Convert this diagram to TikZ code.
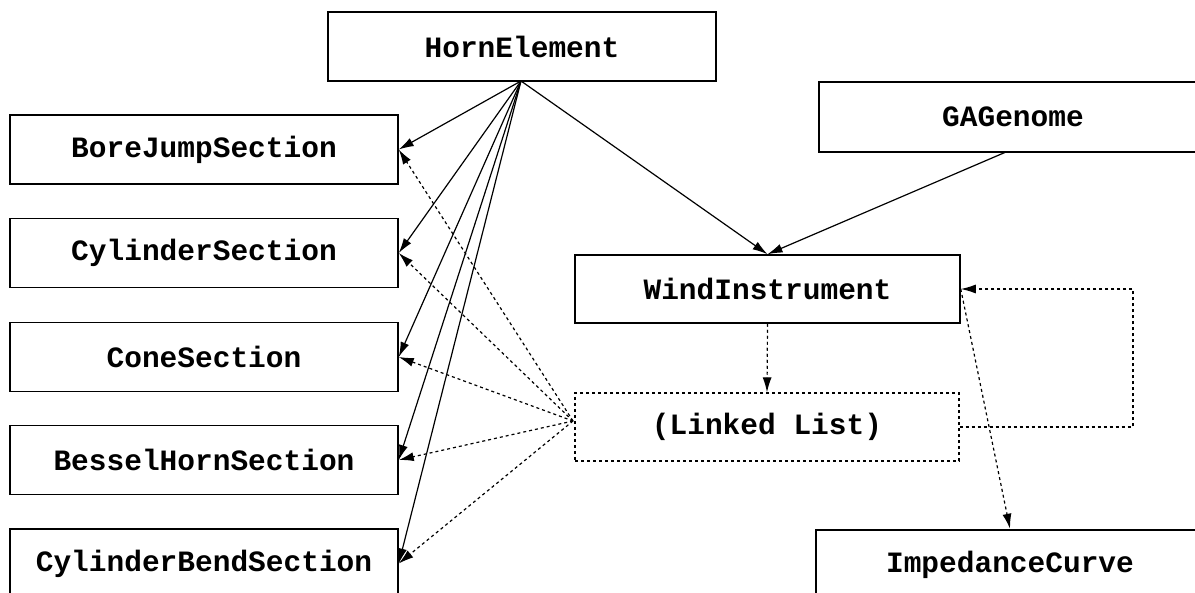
\documentclass[tikz,border=0pt]{standalone}
\usepackage{fontspec}
\setmonofont{Liberation Mono}
\usetikzlibrary{arrows.meta}
\begin{document}
\begin{tikzpicture}[x=1bp,y=-1bp,
  box/.style={draw, rectangle, line width=1.5bp, inner sep=0pt, font=\ttfamily\bfseries\fontsize{29.5bp}{32bp}\selectfont},
  thickbox/.style={box, line width=2.8bp},
  dotbox/.style={box, line width=1.3bp, dash pattern=on 3bp off 3bp},
  solidarr/.style={line width=1.2bp, -{Latex[length=15bp,width=9bp]}},
  dotarr/.style={line width=1.2bp, dash pattern=on 3bp off 3bp, -{Latex[length=15bp,width=9bp]}}]
\useasboundingbox (0,0) rectangle (1195,593);
\begin{scope}
\clip (0,0) rectangle (1195,593);
\node[thickbox, minimum width=388bp, minimum height=69bp] (horn) at (522,46.5) {HornElement};
\node[thickbox, line width=2.5bp, minimum width=388bp, minimum height=70bp] (ga) at (1013,117) {GAGenome};
\node[box, minimum width=388bp, minimum height=69bp] (bj) at (204,149.5) {BoreJumpSection};
\node[box, minimum width=388bp, minimum height=69bp] (cyl) at (204,253) {CylinderSection};
\node[box, minimum width=388bp, minimum height=69bp] (cone) at (204,357) {ConeSection};
\node[box, minimum width=388bp, minimum height=69bp] (bes) at (204,460) {BesselHornSection};
\node[box, minimum width=388bp, minimum height=69bp] (bend) at (204,563.5) {CylinderBendSection};
\node[box, minimum width=385bp, minimum height=68bp] (wind) at (767.5,289) {WindInstrument};
\node[dotbox, minimum width=384bp, minimum height=68bp] (ll) at (767,427) {(Linked List)};
\node[thickbox, line width=2.5bp, minimum width=388bp, minimum height=69bp] (imp) at (1010,564.5) {ImpedanceCurve};
\end{scope}
\coordinate (hs) at (521,81);
\coordinate (lw) at (573,421);
\coordinate (loopA) at (1133,427);
\coordinate (loopB) at (1133,289);
\foreach \t in {bj,cyl,cone,bes,bend}{
  \draw[solidarr] (hs) -- (\t.east);
  \draw[dotarr] (lw) -- (\t.east);
}
\draw[solidarr] (hs) -- (wind.north);
\draw[solidarr] (1006,152) -- (wind.north);
\draw[dotarr] (wind.south) -- (ll.north);
\draw[dotarr] (ll.east) -- (loopA) -- (loopB) -- (wind.east);
\draw[dotarr] (wind.east) -- (imp.north);
\end{tikzpicture}
\end{document}
